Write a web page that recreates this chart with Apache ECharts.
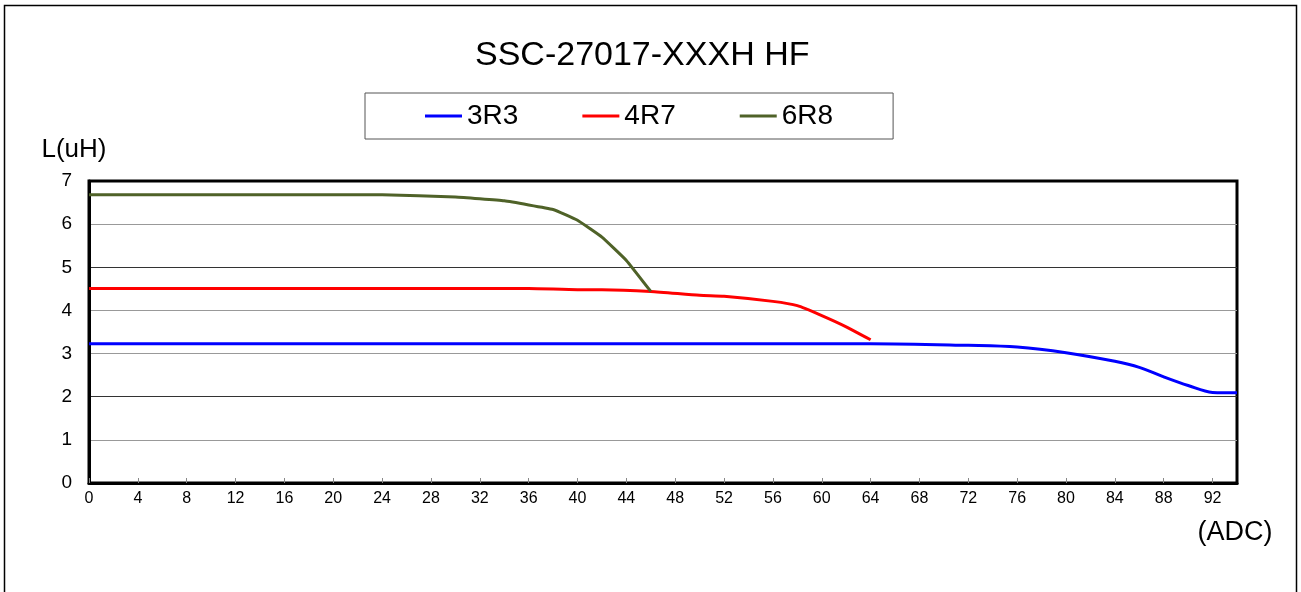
<!DOCTYPE html>
<html>
<head>
<meta charset="utf-8">
<script src="https://cdn.jsdelivr.net/npm/echarts@6/dist/echarts.min.js"></script>
<style>
html,body{margin:0;padding:0;background:#fff;}
#chart{width:1301px;height:592px;}
</style>
</head>
<body>
<div id="chart"></div>
<script>
var titleText = 'SSC-27017-XXXH HF';
var seriesNames = ['3R3', '4R7', '6R8'];
var xTicks = [0,4,8,12,16,20,24,28,32,36,40,44,48,52,56,60,64,68,72,76,80,84,88,92];
var yTicks = [0,1,2,3,4,5,6,7];

var data3R3 = [[0,3.23],[64,3.23],[72,3.19],[76,3.15],[80,3.02],[84,2.82],[86,2.68],[88,2.46],[90,2.26],[92,2.10],[94,2.09]];
var data4R7 = [[0,4.51],[36,4.51],[40,4.48],[42,4.48],[46,4.44],[50,4.35],[52,4.33],[56,4.21],[58,4.11],[60,3.88],[62,3.62],[64,3.32]];
var data6R8 = [[0,6.68],[24,6.68],[30,6.63],[34,6.54],[38,6.34],[40,6.09],[42,5.70],[44,5.16],[46,4.44]];

var font = 'Liberation Sans, Arial, sans-serif';
var chart = echarts.init(document.getElementById('chart'));
chart.setOption({
  backgroundColor: '#fff',
  animation: false,
  graphic: [{
    type: 'rect', shape: {x: 4.5, y: 5.5, width: 1292, height: 620},
    style: {fill: 'none', stroke: '#000', lineWidth: 1.5}, silent: true
  }],
  title: {
    text: titleText, left: 470, top: 34,
    textStyle: {fontFamily: font, fontSize: 34, fontWeight: 'normal', color: '#000'}
  },
  legend: {
    left: 365, top: 93,
    padding: [9, 60, 9, 60],
    borderColor: '#555', borderWidth: 1,
    itemGap: 64, itemWidth: 37, itemHeight: 3,
    icon: 'rect',
    textStyle: {fontFamily: font, fontSize: 28, color: '#000'},
    data: seriesNames
  },
  grid: {
    left: 89, top: 181, right: 64, bottom: 109,
    show: true, borderColor: '#000', borderWidth: 3, backgroundColor: 'transparent'
  },
  xAxis: {
    type: 'value', min: 0, max: 94, interval: 4,
    name: '(ADC)', nameLocation: 'end', nameGap: -2,
    nameTextStyle: {fontFamily: font, fontSize: 27, color: '#000', align: 'center', verticalAlign: 'top', padding: [36, 0, 0, 0]},
    axisLine: {show: true, lineStyle: {color: '#000', width: 3}},
    axisTick: {show: true, inside: true, length: 5, lineStyle: {color: '#888', width: 1}},
    axisLabel: {fontFamily: font, fontSize: 16, color: '#000', margin: 8, showMaxLabel: false,
      formatter: function (v) { return xTicks.indexOf(v) >= 0 ? String(v) : ''; }},
    splitLine: {show: false}
  },
  yAxis: {
    type: 'value', min: 0, max: 7, interval: 1,
    name: 'L(uH)', nameLocation: 'end', nameGap: 18,
    nameTextStyle: {fontFamily: font, fontSize: 26, color: '#000', align: 'center', padding: [0, 30, 0, 0]},
    axisLine: {show: true, lineStyle: {color: '#000', width: 3}},
    axisTick: {show: false},
    axisLabel: {fontFamily: font, fontSize: 19, color: '#000', margin: 17,
      formatter: function (v) { return yTicks.indexOf(v) >= 0 ? String(v) : ''; }},
    splitLine: {show: true, lineStyle: {width: 1, color: ['#000', '#999', '#333', '#999', '#999', '#333', '#999', '#000']}}
  },
  series: [
    {name: seriesNames[0], type: 'line', data: data3R3, smooth: 0.35, showSymbol: false, lineStyle: {color: '#0000FF', width: 3}, itemStyle: {color: '#0000FF'}, z: 3},
    {name: seriesNames[1], type: 'line', data: data4R7, smooth: 0.2, showSymbol: false, lineStyle: {color: '#FF0000', width: 3}, itemStyle: {color: '#FF0000'}, z: 4},
    {name: seriesNames[2], type: 'line', data: data6R8, smooth: 0.1, showSymbol: false, lineStyle: {color: '#4F6228', width: 3}, itemStyle: {color: '#4F6228'}, z: 5}
  ]
});
</script>
</body>
</html>
